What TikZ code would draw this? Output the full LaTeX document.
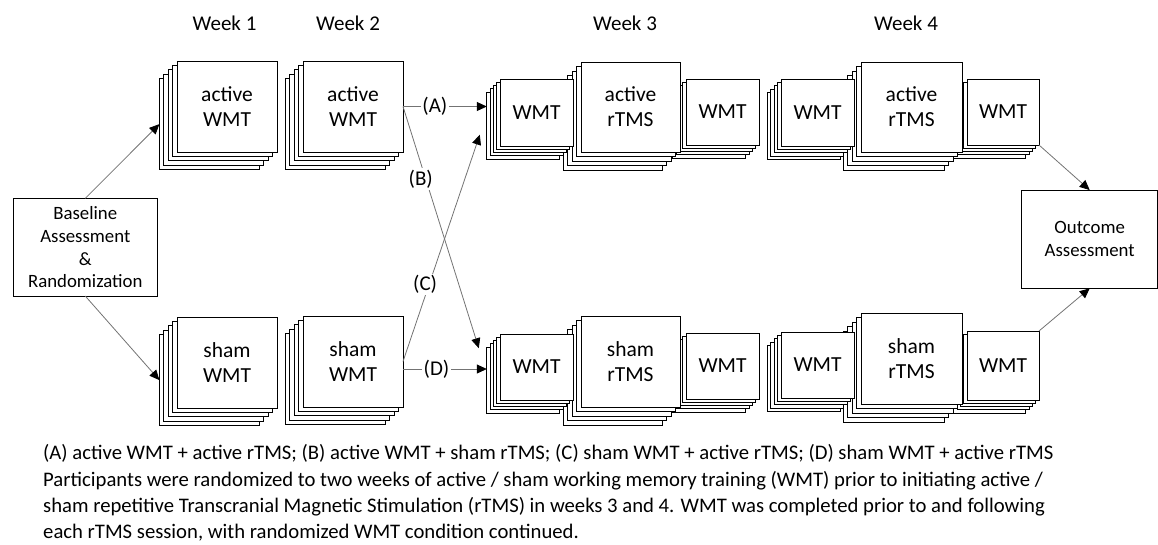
\documentclass[tikz,border=0pt]{standalone}
\usepackage{fontspec}
\setmainfont{Carlito}
\usetikzlibrary{arrows.meta,calc}
\tikzset{
  layer/.style={draw=black, fill=white, line width=0.9pt, inner sep=0pt, outer sep=0pt},
  front/.style={layer, align=center, font=\fontsize{21.5}{25}\selectfont},
  conn/.style={draw=black!55, line width=0.8pt},
  arr/.style={conn, -{Triangle[length=10pt,width=9pt,black]}},
  lbl/.style={fill=white, inner sep=1.5pt, font=\fontsize{21}{25}\selectfont},
  week/.style={font=\fontsize{21}{25}\selectfont},
  info/.style={draw=black, fill=white, line width=0.9pt, align=center, inner sep=0pt, outer sep=0pt, font=\fontsize{18.8}{22.7}\selectfont},
  capline/.style={anchor=base west, inner sep=0pt, font=\fontsize{20.7}{26}\selectfont},
}
\newcommand{\stk}[7]{%
  \pgfmathsetmacro{\stkw}{#4-#2}\pgfmathsetmacro{\stkh}{#5-#3}%
  \pgfmathsetmacro{\stkx}{(#2+#4)/2}\pgfmathsetmacro{\stky}{(#3+#5)/2}%
  \foreach \k in {4,3,2,1}{%
    \node[layer, minimum width=\stkw pt, minimum height=\stkh pt] (#1b\k) at ({\stkx-\k*#6},{\stky+\k*#6}) {};
  }%
  \node[front, minimum width=\stkw pt, minimum height=\stkh pt] (#1) at (\stkx,\stky) {#7};%
}
\begin{document}
\begin{tikzpicture}[x=1pt,y=-1pt]
\useasboundingbox (0,0) rectangle (1158,544);
% week labels
\node[week, anchor=base] (w1) at (224.5,30.7) {Week 1};
\node[week, anchor=base] (w2) at (348,30.7) {Week 2};
\node[week, anchor=base] (w3) at (625,30.7) {Week 3};
\node[week, anchor=base] (w4) at (906,30.7) {Week 4};
% top row
\stk{a1}{177}{61}{277}{152}{4.4}{active\\WMT}
\stk{a2}{303}{61}{403}{152}{4.4}{active\\WMT}
\stk{a3r}{686}{79}{759}{145}{3.3}{WMT}
\stk{a3m}{581}{62}{680}{152}{4.5}{active\\rTMS}
\stk{a3l}{500}{79}{573}{146}{3.3}{WMT}
\stk{a4r}{967}{79}{1039}{145}{3.3}{WMT}
\stk{a4m}{861}{62}{962}{152}{4.5}{active\\rTMS}
\stk{a4l}{781}{79}{854}{146}{3.4}{WMT}
% bottom row
\stk{s1}{177}{317}{277}{408}{4.4}{sham\\WMT}
\stk{s2}{303}{316}{403}{407}{4.4}{sham\\WMT}
\stk{s3r}{686}{333}{759}{399}{3.3}{WMT}
\stk{s3m}{581}{316}{680}{407}{4.5}{sham\\rTMS}
\stk{s3l}{500}{334}{573}{400}{3.3}{WMT}
\stk{s4r}{967}{331}{1039}{400}{3.3}{WMT}
\stk{s4m}{861}{313}{962}{404}{4.5}{sham\\rTMS}
\stk{s4l}{781}{332}{854}{398}{3.4}{WMT}
% assessment boxes
\node[info, minimum width=144pt, minimum height=97.7pt] (base) at (85.3,247.2) {Baseline\\Assessment\\\&\\Randomization};
\node[info, minimum width=136pt, minimum height=98.3pt] (out) at (1089.7,239.2) {Outcome\\Assessment};
% connectors
\draw[arr] (base.north) -- (a1b4.west);
\draw[arr] (base.south) -- (s1b4.west);
\coordinate (bend) at ($(s3lb4.north west)+(-8,1)$);
\coordinate (cend) at ($(a3lb4.west)+(-7,9)$);
\coordinate (dstart) at ($(s2.east)+(0,7.5)$);
\draw[arr] (a2.east) -- node[lbl, pos=0.3, xshift=-5pt] (lb) {(B)} (bend);
\draw[arr] (s2.east) -- node[lbl, pos=0.34, xshift=-4pt] (lc) {(C)} (cend);
\draw[arr] (a2.east) -- node[lbl, pos=0.38] (la) {(A)} (a2.east -| a3lb4.west);
\draw[arr] (dstart) -- node[lbl, pos=0.4] (ld) {(D)} (dstart -| s3lb4.west);
\draw[arr] (a4r.south east) -- (out.north);
\draw[arr] (s4r.north east) -- (out.south);
% caption
\node[capline] (c1) at (43,459.5) {(A) active WMT + active rTMS; (B) active WMT + sham rTMS; (C) sham WMT + active rTMS; (D) sham WMT + active rTMS};
\node[capline] (c2) at (43,486) {Participants were randomized to two weeks of active / sham working memory training (WMT) prior to initiating active /};
\node[capline] (c3) at (43,512.5) {sham repetitive Transcranial Magnetic Stimulation (rTMS) in weeks 3 and 4. WMT was completed prior to and following};
\node[capline] (c4) at (43,538.5) {each rTMS session, with randomized WMT condition continued.};
\end{tikzpicture}
\end{document}
